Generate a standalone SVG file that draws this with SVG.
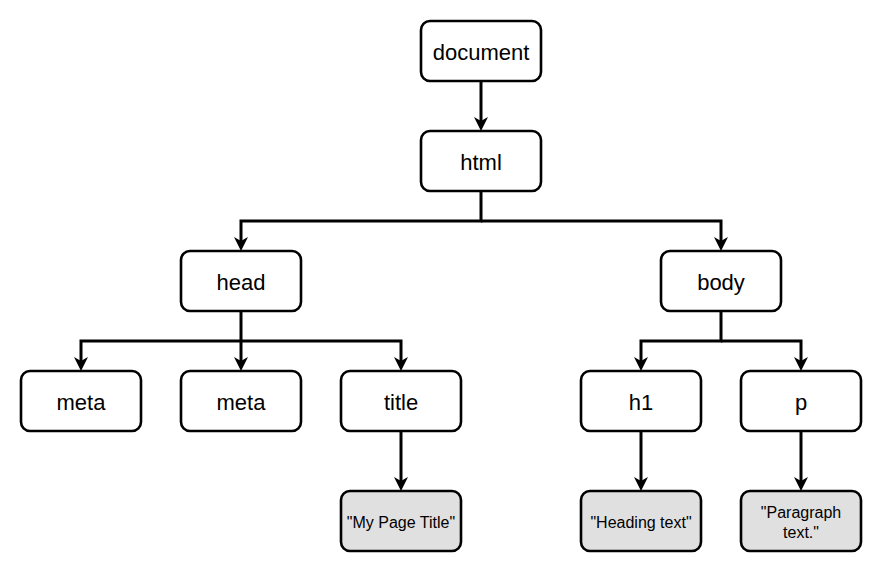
<svg xmlns="http://www.w3.org/2000/svg" width="883" height="574" viewBox="0 0 883 574">
<style>
.box{fill:#ffffff;stroke:#000000;stroke-width:2.6}
.leaf{fill:#e0e0e0;stroke:#000000;stroke-width:2.6}
.t{font-family:"Liberation Sans",Arial,sans-serif;font-size:22px;fill:#000;text-anchor:middle;dominant-baseline:central}
.s{font-family:"Liberation Sans",Arial,sans-serif;font-size:16px;fill:#000;text-anchor:middle;dominant-baseline:central}
.c{fill:none;stroke:#000;stroke-width:3}
</style>
<defs>
<marker id="arr" markerUnits="userSpaceOnUse" markerWidth="15" markerHeight="15" refX="4" refY="7" orient="auto" overflow="visible">
<path d="M0,0 L14,7 L0,14 L4,7 Z" fill="#000"/>
</marker>
</defs>
<rect width="883" height="574" fill="#ffffff"/>
<g id="connectors">
<path class="c" d="M481,81 V121" marker-end="url(#arr)"/>
<path class="c" d="M481,191 V221 H241 V241" marker-end="url(#arr)"/>
<path class="c" d="M481,221 H721 V241" marker-end="url(#arr)"/>
<path class="c" d="M241,311 V361" marker-end="url(#arr)"/>
<path class="c" d="M241,341 H81 V361" marker-end="url(#arr)"/>
<path class="c" d="M241,341 H401 V361" marker-end="url(#arr)"/>
<path class="c" d="M721,311 V341 H641 V361" marker-end="url(#arr)"/>
<path class="c" d="M721,341 H801 V361" marker-end="url(#arr)"/>
<path class="c" d="M401,431 V481" marker-end="url(#arr)"/>
<path class="c" d="M641,431 V481" marker-end="url(#arr)"/>
<path class="c" d="M801,431 V481" marker-end="url(#arr)"/>
</g>
<g id="document"><rect class="box" x="421" y="21" width="120" height="60" rx="9"/><text class="t" x="481" y="52">document</text></g>
<g id="html"><rect class="box" x="421" y="131" width="120" height="60" rx="9"/><text class="t" x="481" y="162">html</text></g>
<g id="head"><rect class="box" x="181" y="251" width="120" height="60" rx="9"/><text class="t" x="241" y="282">head</text></g>
<g id="body"><rect class="box" x="661" y="251" width="120" height="60" rx="9"/><text class="t" x="721" y="282">body</text></g>
<g id="meta1"><rect class="box" x="21" y="371" width="120" height="60" rx="9"/><text class="t" x="81" y="402">meta</text></g>
<g id="meta2"><rect class="box" x="181" y="371" width="120" height="60" rx="9"/><text class="t" x="241" y="402">meta</text></g>
<g id="title"><rect class="box" x="341" y="371" width="120" height="60" rx="9"/><text class="t" x="401" y="402">title</text></g>
<g id="h1"><rect class="box" x="581" y="371" width="120" height="60" rx="9"/><text class="t" x="641" y="402">h1</text></g>
<g id="p"><rect class="box" x="741" y="371" width="120" height="60" rx="9"/><text class="t" x="801" y="402">p</text></g>
<g id="titleText"><rect class="leaf" x="341" y="491" width="120" height="60" rx="9"/><text class="s" x="401" y="522">"My Page Title"</text></g>
<g id="headingText"><rect class="leaf" x="581" y="491" width="120" height="60" rx="9"/><text class="s" x="641" y="522">"Heading text"</text></g>
<g id="paragraphText"><rect class="leaf" x="741" y="491" width="120" height="60" rx="9"/><text class="s" x="801" y="512">"Paragraph</text><text class="s" x="801" y="532">text."</text></g>
</svg>
